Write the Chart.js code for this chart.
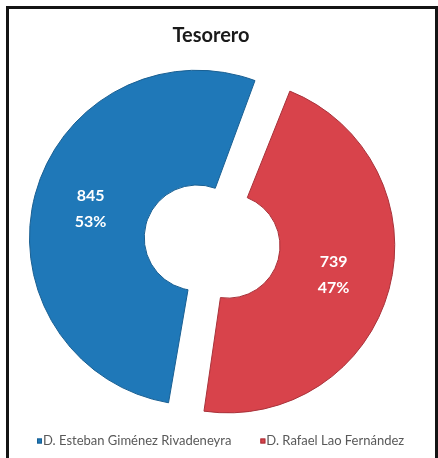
<!DOCTYPE html>
<html><head><meta charset="utf-8">
<script src="https://cdn.jsdelivr.net/npm/chart.js@4/dist/chart.umd.min.js"></script>
<style>
html,body{margin:0;padding:0;background:#fff;}
#wrap{position:relative;width:438px;height:458px;overflow:hidden;}
#frame{position:absolute;left:6px;top:6px;width:426px;height:470px;border:3px solid #141414;border-bottom:none;pointer-events:none;}
canvas{position:absolute;left:0;top:0;}
</style></head>
<body><div id="wrap"><canvas id="c" width="438" height="458"></canvas><div id="frame"></div></div>
<script>
const categories = ['D. Esteban Giménez Rivadeneyra', 'D. Rafael Lao Fernández'];
const votes = [845, 739];
const sliceColors = ['#1f78b8', '#d8434b'];
const sliceBorders = ['#195f92', '#a8323a'];
const chartTitle = 'Tesorero';

const labelPlugin = {
  id: 'sliceLabels',
  afterDatasetsDraw(chart) {
    const ctx = chart.ctx;
    const meta = chart.getDatasetMeta(0);
    const total = votes.reduce((a, b) => a + b, 0);
    ctx.save();
    ctx.fillStyle = '#ffffff';
    ctx.font = 'bold 16px Lato';
    ctx.textAlign = 'center';
    ctx.textBaseline = 'middle';
    meta.data.forEach((arc, i) => {
      const o = (arc.options.offset || 0) / 4;
      const span = arc.endAngle - arc.startAngle;
      const fix = 1 - Math.sin(Math.min(Math.PI, span));
      const mid = (arc.startAngle + arc.endAngle) / 2;
      const r = o + (arc.innerRadius + arc.outerRadius) / 2 + o * fix;
      const px = arc.x + Math.cos(mid) * r;
      const py = arc.y + Math.sin(mid) * r;
      const pct = Math.round(votes[i] / total * 100) + '%';
      ctx.fillText(String(votes[i]), px, py - 13);
      ctx.fillText(pct, px, py + 13);
    });
    ctx.restore();
  }
};

// Legend drawn in the reserved strip under the chart area
const legendPlugin = {
  id: 'bottomLegend',
  afterDraw(chart) {
    const ctx = chart.ctx;
    const meta = chart.getDatasetMeta(0);
    const y = chart.chartArea.bottom + 42;
    let x = 37;
    ctx.save();
    ctx.font = '13px Lato';
    ctx.textBaseline = 'middle';
    ctx.textAlign = 'left';
    categories.forEach((name, i) => {
      const o = meta.data[i].options;
      ctx.fillStyle = o.backgroundColor;
      ctx.fillRect(x, y - 2.5, 5, 5);
      ctx.strokeStyle = o.borderColor;
      ctx.lineWidth = 1;
      ctx.strokeRect(x + 0.5, y - 2, 4, 4);
      ctx.fillStyle = '#595959';
      ctx.fillText(name, x + 6, y);
      x += 6 + ctx.measureText(name).width + 29;
    });
    ctx.restore();
  }
};

new Chart(document.getElementById('c'), {
  type: 'doughnut',
  data: {
    labels: categories,
    datasets: [{
      data: votes,
      backgroundColor: sliceColors,
      borderColor: sliceBorders,
      borderWidth: 1,
      offset: [58, 70]
    }]
  },
  options: {
    responsive: false,
    animation: false,
    devicePixelRatio: 1,
    rotation: 189,
    radius: 153,
    cutout: '25%',
    layout: { padding: { left: 0, right: 16, top: 0, bottom: 59 } },
    plugins: {
      title: {
        display: true,
        text: chartTitle,
        color: '#1a1a1a',
        font: { family: 'Lato', size: 20, weight: 'bold' },
        padding: { top: 24, bottom: 36 }
      },
      legend: { display: false },
      tooltip: { enabled: false }
    }
  },
  plugins: [labelPlugin, legendPlugin]
});
</script>
</body></html>
